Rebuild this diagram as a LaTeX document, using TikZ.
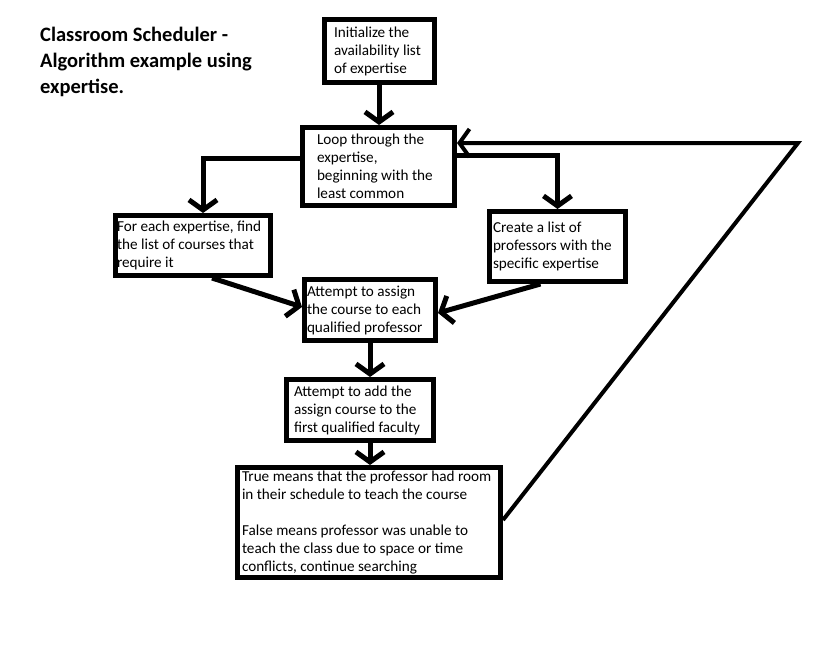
\documentclass[tikz,border=0pt]{standalone}
\usepackage{fontspec}
\setmainfont{Carlito}
\usetikzlibrary{arrows.meta}

\begin{document}
\begin{tikzpicture}[x=1pt,y=-1pt,>={Straight Barb[length=10pt,width=28pt]},
  stepbox/.style={draw,line width=5pt,inner sep=0pt,align=flush left,
    font=\fontsize{15.2}{18}\selectfont},
  link/.style={->,line width=5pt}]
\useasboundingbox (0,0) rectangle (839,669);
\node[anchor=north west,inner sep=0pt,align=left,
  font=\fontsize{20.5}{26}\selectfont\bfseries] (title) at (40,27)
  {Classroom Scheduler -\\Algorithm example using\\expertise.};
\node[stepbox,minimum width=110pt,minimum height=63pt,text width=90pt] (init) at (379,51)
  {Initialize the\\availability list\\of expertise};
\node[stepbox,minimum width=152pt,minimum height=78pt,text width=123pt] (loop) at (378.5,166.5)
  {Loop through the\\expertise,\\beginning with the\\least common};
\node[stepbox,minimum width=155pt,minimum height=60pt,text width=152pt] (foreach) at (193,245.5)
  {For each expertise, find\\the list of courses that\\require it};
\node[stepbox,minimum width=136pt,minimum height=70pt,text width=129pt] (create) at (557.5,246.5)
  {Create a list of\\professors with the\\specific expertise};
\node[stepbox,minimum width=131pt,minimum height=61pt,text width=126pt] (assign) at (370,310)
  {Attempt to assign\\the course to each\\qualified professor};
\node[stepbox,minimum width=147pt,minimum height=61pt,text width=132pt] (add) at (360,410)
  {Attempt to add the\\assign course to the\\first qualified faculty};
\node[stepbox,minimum width=263pt,minimum height=110pt,text width=254pt] (true) at (369,522.5)
  {True means that the professor had room\\in their schedule to teach the course\\[18pt]
   False means professor was unable to\\teach the class due to space or time\\conflicts, continue searching};
\coordinate (turn) at (798,143);
\draw[link] (init.south) -- (init.south |- loop.north);
\draw[link] (loop.west |- 0,158) -| ([xshift=10pt]foreach.north);
\draw[link] (loop.east |- 0,155) -| (create.north);
\draw[link] ([xshift=19pt]foreach.south) -- (assign.west |- 0,307);
\draw[link] ([xshift=-17pt]create.south) -- (assign.east |- 0,313);
\draw[link] (assign.south) -- (assign.south |- add.north);
\draw[link] (assign.south |- add.south) -- (assign.south |- true.north);
\draw[->,line width=4pt] (true.east |- 0,520) -- (turn) -- (turn -| loop.east);
\end{tikzpicture}
\end{document}
